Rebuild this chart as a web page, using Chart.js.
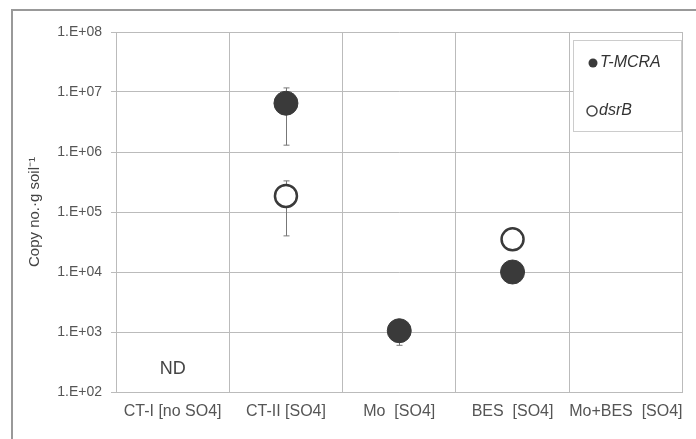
<!DOCTYPE html>
<html>
<head>
<meta charset="utf-8">
<script src="https://cdn.jsdelivr.net/npm/chart.js@4"></script>
<style>
  html, body { margin: 0; padding: 0; background: #fff; }
  #wrap { width: 696px; height: 439px; }
</style>
</head>
<body>
<div id="wrap"><canvas id="myChart" width="696" height="439"></canvas></div>
<script>
var categories = ['CT-I [no SO4]', 'CT-II [SO4]', 'Mo  [SO4]', 'BES  [SO4]', 'Mo+BES  [SO4]'];
var mcraValues = [null, 6.5e6, 1.05e3, 1.0e4, null];
var mcraErrors = [null, 5.2e6, 4.5e2, 1.5e3, null];
var dsrValues = [null, 1.85e5, null, 3.5e4, null];
var dsrErrors = [null, 1.45e5, null, 4e3, null];
var yTicks = [1e2, 1e3, 1e4, 1e5, 1e6, 1e7, 1e8];
var ndLabel = 'ND';

var FONT = "'Liberation Sans', Arial, sans-serif";

// error bars, drawn under the markers
var errorBars = {
  id: 'errorBars',
  beforeDatasetsDraw: function(chart) {
    var ctx = chart.ctx, x = chart.scales.x, y = chart.scales.y;
    var sets = [[mcraValues, mcraErrors], [dsrValues, dsrErrors]];
    ctx.save();
    ctx.strokeStyle = '#777';
    ctx.lineWidth = 1;
    sets.forEach(function(s) {
      s[0].forEach(function(v, i) {
        if (v == null || s[1][i] == null) return;
        var px = Math.round(x.getPixelForValue(i)) + 0.5;
        var top = y.getPixelForValue(v + s[1][i]);
        var bot = y.getPixelForValue(Math.max(v - s[1][i], 1));
        ctx.beginPath();
        ctx.moveTo(px, top); ctx.lineTo(px, bot);
        ctx.moveTo(px - 3, top); ctx.lineTo(px + 3, top);
        ctx.moveTo(px - 3, bot); ctx.lineTo(px + 3, bot);
        ctx.stroke();
      });
    });
    ctx.restore();
  }
};

// frame, ND note and the legend box inside the plot
var extras = {
  id: 'extras',
  beforeDraw: function(chart) {
    var ctx = chart.ctx;
    ctx.save();
    ctx.strokeStyle = '#999';
    ctx.lineWidth = 2;
    ctx.beginPath();
    ctx.moveTo(12, 445); ctx.lineTo(12, 10); ctx.lineTo(700, 10);
    ctx.stroke();
    ctx.restore();
  },
  afterDraw: function(chart) {
    var ctx = chart.ctx, x = chart.scales.x;
    ctx.save();
    ctx.fillStyle = '#444';
    ctx.font = '18px ' + FONT;
    ctx.textAlign = 'center';
    ctx.textBaseline = 'middle';
    ctx.fillText(ndLabel, x.getPixelForValue(0), 369);

    var lx = 573, ly = 40, lw = 108, lh = 91;
    ctx.fillStyle = '#fff';
    ctx.fillRect(lx, ly, lw, lh);
    ctx.strokeStyle = '#ccc';
    ctx.lineWidth = 1;
    ctx.strokeRect(lx + 0.5, ly + 0.5, lw, lh);

    var ds = chart.data.datasets;
    ctx.font = 'italic 16px ' + FONT;
    ctx.textAlign = 'left';
    // T-MCRA
    ctx.fillStyle = ds[0].backgroundColor;
    ctx.beginPath(); ctx.arc(593, 63, 4.5, 0, Math.PI * 2); ctx.fill();
    ctx.fillStyle = '#333';
    ctx.fillText(ds[0].label, 600, 63);
    // dsrB
    ctx.strokeStyle = '#444';
    ctx.lineWidth = 1.5;
    ctx.beginPath(); ctx.arc(592, 111, 5, 0, Math.PI * 2); ctx.stroke();
    ctx.fillStyle = '#333';
    ctx.fillText(ds[1].label, 599, 111);
    ctx.restore();
  }
};

var ctx = document.getElementById('myChart').getContext('2d');
var myChart = new Chart(ctx, {
  type: 'line',
  data: {
    labels: categories,
    datasets: [{
      label: 'T-MCRA',
      data: mcraValues,
      showLine: false,
      backgroundColor: '#3a3a3a',
      borderColor: '#3a3a3a',
      pointRadius: 12,
      pointBorderWidth: 1
    }, {
      label: 'dsrB',
      data: dsrValues,
      showLine: false,
      backgroundColor: '#fff',
      borderColor: '#3a3a3a',
      pointRadius: 11,
      pointBorderWidth: 2.5
    }]
  },
  options: {
    responsive: false,
    animation: false,
    layout: { padding: { left: 0, top: 32, right: 11, bottom: 0 } },
    plugins: { legend: { display: false }, tooltip: { enabled: false } },
    scales: {
      x: {
        offset: true,
        grid: { offset: true, color: '#bbb', drawTicks: false },
        border: { color: '#bbb' },
        ticks: { color: '#555', font: { family: FONT, size: 16 }, padding: 10, maxRotation: 0, autoSkip: false },
        afterFit: function(s) { s.height = 47; }
      },
      y: {
        type: 'logarithmic',
        min: 1e2,
        max: 1e8,
        grid: { color: '#bbb', drawTicks: true, tickLength: 5 },
        border: { color: '#bbb' },
        afterBuildTicks: function(s) {
          s.ticks = yTicks.map(function(v) { return { value: v }; });
        },
        ticks: {
          color: '#555',
          font: { family: FONT, size: 14 },
          padding: 9,
          callback: function(v) { return '1.E+' + String(Math.round(Math.log10(v))).padStart(2, '0'); }
        },
        title: {
          display: true,
          text: 'Copy no.·g soil⁻¹',
          color: '#444',
          font: { family: FONT, size: 15 },
          padding: { top: 26, bottom: 0 }
        },
        afterFit: function(s) { s.width = 116; }
      }
    }
  },
  plugins: [errorBars, extras]
});
</script>
</body>
</html>
